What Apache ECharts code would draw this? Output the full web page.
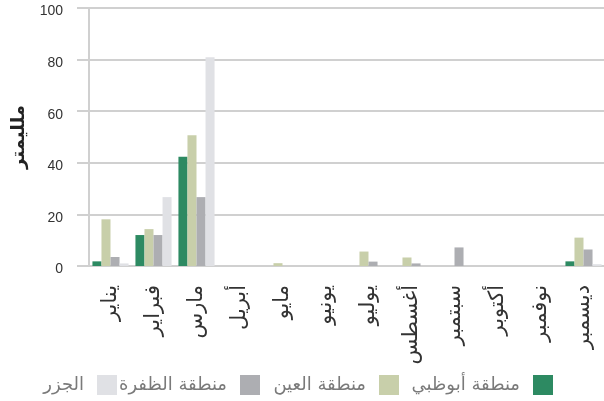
<!DOCTYPE html>
<html>
<head>
<meta charset="utf-8">
<script src="https://cdn.jsdelivr.net/npm/echarts@6/dist/echarts.min.js"></script>
<style>
html,body{margin:0;padding:0;background:#fff;}
#c{width:604px;height:401px;}
</style>
</head>
<body>
<div id="c"></div>
<script>
const months = ['يناير','فبراير','مارس','أبريل','مايو','يونيو','يوليو','أغسطس','سبتمبر','أكتوبر','نوفمبر','ديسمبر'];
const seriesNames = ['منطقة أبوظبي','منطقة العين','منطقة الظفرة','الجزر'];
const abuDhabi = [1.8, 12, 42.3, 0, 0, 0, 0, 0, 0, 0, 0, 1.8];
const alAin = [18.1, 14.3, 50.7, 0, 1.1, 0, 5.6, 3.3, 0, 0, 0, 11];
const alDhafra = [3.5, 12, 26.7, 0, 0, 0, 1.7, 1, 7.2, 0, 0, 6.4];
const islands = [1, 26.7, 80.9, 0, 0, 0, 0, 0, 0, 0, 0, 0.7];
const yTicks = [0, 20, 40, 60, 80, 100];
const yTitle = 'ملليمتر';
const colors = ['#2d8a62', '#c8cfaa', '#adaeb2', '#e0e1e5'];

const chart = echarts.init(document.getElementById('c'), null, {renderer: 'canvas'});
const font = '"DejaVu Sans", sans-serif';
const numFont = '"Liberation Sans", Arial, sans-serif';
const values = [abuDhabi, alAin, alDhafra, islands];
const legendRight = [46, 200, 339, 482];
chart.setOption({
  animation: false,
  textStyle: {fontFamily: font},
  grid: {left: 89, top: 8, width: 516, height: 258, containLabel: false, outerBoundsMode: 'none'},
  legend: seriesNames.map((n, i) => ({
    data: [n],
    right: legendRight[i], top: 370,
    align: 'right',
    itemWidth: 20, itemHeight: 20,
    icon: 'rect',
    selectedMode: false,
    textStyle: {fontSize: 18, color: '#7a7a7a', fontFamily: font, padding: [0, 8, 0, 0]}
  })),
  xAxis: {
    type: 'category',
    data: months,
    axisLine: {lineStyle: {color: '#d0d0d0', width: 2}},
    axisTick: {alignWithLabel: true, length: 9, lineStyle: {color: '#d0d0d0', width: 1}},
    axisLabel: {rotate: 90, margin: 19, fontSize: 21, color: '#333', fontFamily: font, interval: 0}
  },
  yAxis: {
    type: 'value',
    min: yTicks[0], max: yTicks[yTicks.length - 1], interval: 20,
    name: yTitle, nameLocation: 'middle', nameGap: 60, nameRotate: 90,
    nameTextStyle: {fontSize: 18, fontWeight: 'bold', color: '#222', fontFamily: font},
    axisLine: {show: true, lineStyle: {color: '#d0d0d0', width: 2}},
    axisTick: {show: true, length: 12, lineStyle: {color: '#d0d0d0', width: 2}},
    axisLabel: {margin: 26, fontSize: 14, color: '#333', fontFamily: numFont, verticalAlign: 'top', lineHeight: 7},
    splitLine: {lineStyle: {color: '#d0d0d0', width: 2}}
  },
  series: seriesNames.map((n, i) => ({
    name: n,
    type: 'bar',
    data: values[i],
    itemStyle: {color: colors[i]},
    barGap: '0%',
    barCategoryGap: '16%'
  }))
});
</script>
</body>
</html>
